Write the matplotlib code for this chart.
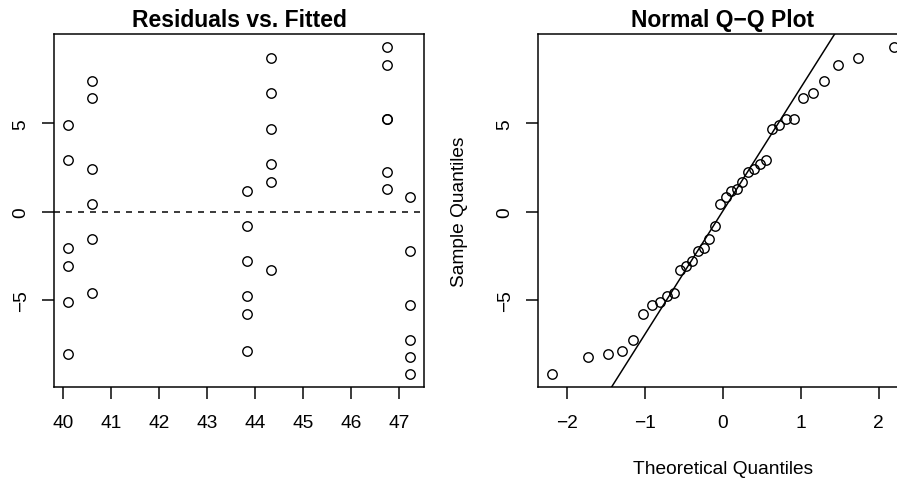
import numpy as np
import matplotlib
matplotlib.use("Agg")
import matplotlib.pyplot as plt
from statistics import NormalDist

plt.rcParams['font.family'] = ['Liberation Sans', 'DejaVu Sans']

# ---- data ----
fitted = [40.09] * 6 + [40.59] * 6 + [43.83] * 6 + [44.33] * 6 + [46.75] * 6 + [47.23] * 6
residuals = [4.91, 2.92, -2.07, -3.07, -5.09, -8.05,
             7.41, 6.42, 2.44, 0.44, -1.56, -4.58,
             1.19, -0.81, -2.79, -4.77, -5.79, -7.83,
             8.68, 6.70, 4.70, 2.70, 1.70, -3.30,
             9.30, 8.30, 5.23, 5.23, 2.27, 1.27,
             0.81, -2.22, -5.24, -7.22, -8.20, -9.15]
left_xticks = [40, 41, 42, 43, 44, 45, 46, 47]
right_xticks = [-2, -1, 0, 1, 2]
yticks = [-5, 0, 5]
title_left = "Residuals vs. Fitted"
title_right = "Normal Q\u2212Q Plot"
xlabel_right = "Theoretical Quantiles"
ylabel_right = "Sample Quantiles"

W, H = 897, 485
fig = plt.figure(figsize=(W / 100, H / 100), dpi=100)

def px_axes(x0, x1, y0, y1):
    return fig.add_axes([x0 / W, (H - y1) / H, (x1 - x0) / W, (y1 - y0) / H])

ax1 = px_axes(54, 424, 35, 388)
ax2 = px_axes(538, 908, 35, 388)

res = np.array(residuals)
fit = np.array(fitted)
n = len(res)

def rpad(lo, hi):
    d = (hi - lo) * 0.04
    return lo - d, hi + d

mk = dict(marker='o', linestyle='none', markersize=6.8, markerfacecolor='none',
          markeredgecolor='black', markeredgewidth=1.0)

FS = 13.8

# left panel
ax1.plot(fit, res, **mk)
ax1.axhline(0, color='black', linewidth=1.08, dashes=(4, 4))
ax1.set_xlim(*rpad(fit.min(), fit.max()))
ax1.set_ylim(*rpad(res.min(), res.max()))
ax1.set_xticks(left_xticks)
ax1.set_yticks(yticks)
ax1.set_title(title_left, fontsize=16.5, fontweight='bold', pad=6)

# right panel (QQ)
p = (np.arange(1, n + 1) - 0.5) / n
theo = np.array([NormalDist().inv_cdf(v) for v in p])
srt = np.sort(res)
ax2.plot(theo, srt, **mk)
q1, q3 = np.percentile(res, [25, 75])
z1, z3 = NormalDist().inv_cdf(0.25), NormalDist().inv_cdf(0.75)
slope = (q3 - q1) / (z3 - z1)
inter = q1 - slope * z1
ax2.axline((0, inter), slope=slope, color='black', linewidth=1.08)
ax2.set_xlim(*rpad(theo.min(), theo.max()))
ax2.set_ylim(*rpad(srt.min(), srt.max()))
ax2.set_xticks(right_xticks)
ax2.set_yticks(yticks)
ax2.set_title(title_right, fontsize=16.5, fontweight='bold', pad=6)
ax2.set_xlabel(xlabel_right, fontsize=FS, labelpad=21)
ax2.set_ylabel(ylabel_right, fontsize=FS, labelpad=21)

for ax in (ax1, ax2):
    for s in ax.spines.values():
        s.set_linewidth(1.08)
    ax.tick_params(axis='both', length=8.5, width=1.08, labelsize=FS, direction='out')
    ax.tick_params(axis='x', pad=11)
    ax.tick_params(axis='y', pad=9)
    for lab in ax.get_yticklabels():
        lab.set_rotation(90)
        lab.set_va('center')

fig.savefig("out.png", dpi=100)
